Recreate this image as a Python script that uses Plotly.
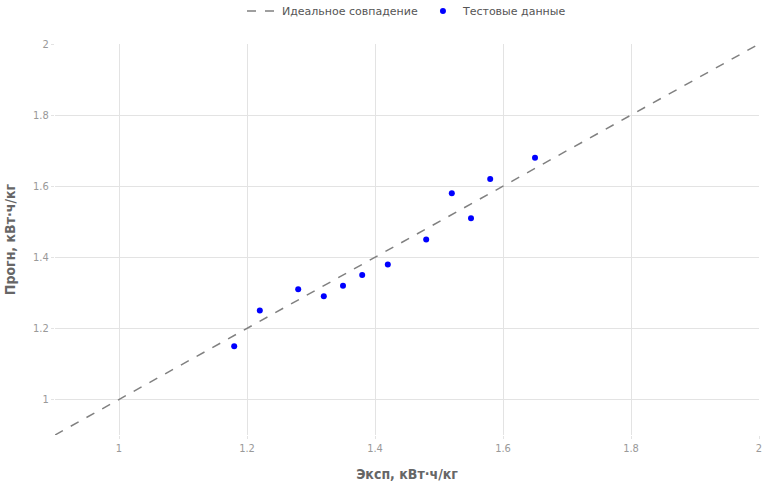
import plotly.graph_objects as go

exp_vals = [1.18, 1.22, 1.28, 1.32, 1.35, 1.38, 1.42, 1.48, 1.52, 1.55, 1.58, 1.65]
pred_vals = [1.15, 1.25, 1.31, 1.29, 1.32, 1.35, 1.38, 1.45, 1.58, 1.51, 1.62, 1.68]
ideal = [0.9, 2.0]

x_title = "Эксп, кВт·ч/кг"
y_title = "Прогн, кВт·ч/кг"
tick_vals = [1, 1.2, 1.4, 1.6, 1.8, 2]
tick_text = ["1", "1.2", "1.4", "1.6", "1.8", "2"]

fig = go.Figure()
fig.add_trace(go.Scatter(x=ideal, y=ideal, mode="lines", name="Идеальное совпадение",
                         line=dict(color="gray", dash="dash", width=1.5)))
fig.add_trace(go.Scatter(x=exp_vals, y=pred_vals, mode="markers", name="Тестовые данные",
                         marker=dict(color="blue", size=6)))

cond = "Liberation Sans Narrow, DejaVu Sans Condensed, sans-serif"
axis_common = dict(showgrid=True, gridcolor="#e3e3e3", gridwidth=1, zeroline=False,
                   showline=False, ticks="outside", ticklen=3, tickcolor="#e3e3e3",
                   automargin=False,
                   tickfont=dict(family=cond, size=11, color="#999999"),
                   tickvals=tick_vals, ticktext=tick_text)

fig.update_layout(
    width=763, height=483,
    margin=dict(l=55, r=4, t=44, b=48, autoexpand=False),
    paper_bgcolor="white", plot_bgcolor="white",
    showlegend=True,
    legend=dict(orientation="h", x=0.5, xanchor="center", y=1.047, yanchor="bottom",
                itemwidth=30,
                font=dict(family="DejaVu Sans, sans-serif", size=11, color="#555555")),
    xaxis=dict(range=[0.9, 2.0], **axis_common,
               title=dict(text="<b>" + x_title + "</b>", standoff=14,
                          font=dict(family=cond, size=14, color="#666666"))),
    yaxis=dict(range=[0.9, 2.0], **axis_common,
               title=dict(text="<b>" + y_title + "</b>", standoff=14,
                          font=dict(family=cond, size=14, color="#666666"))),
)

fig.write_html("out.html")
